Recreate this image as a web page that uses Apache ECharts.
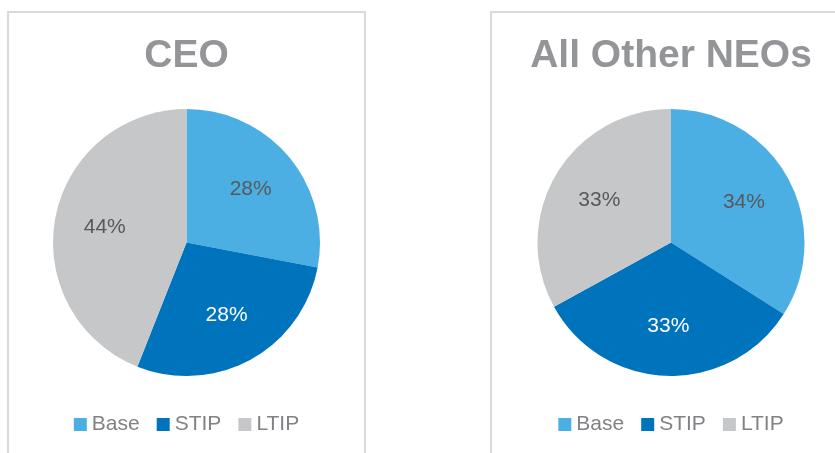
<!DOCTYPE html>
<html>
<head>
<meta charset="utf-8">
<script src="https://cdn.jsdelivr.net/npm/echarts@6/dist/echarts.min.js"></script>
<style>
  html, body { margin: 0; padding: 0; background: #fff; overflow: hidden; }
  body { width: 835px; height: 453px; position: relative; }
  .panel { position: absolute; top: 11px; height: 470px; box-sizing: border-box; border: 2px solid #dadada; }
  .chart { width: 100%; height: 100%; }
</style>
</head>
<body>
<div class="panel" style="left:7px;width:359px"><div id="ceo" class="chart"></div></div>
<div class="panel" style="left:490px;width:362px"><div id="neo" class="chart"></div></div>
<script>
// pay mix, percent of total
const categories = ['Base', 'STIP', 'LTIP'];
const ceoValues = [28, 28, 44];
const neoValues = [34, 33, 33];

const sliceColors = ['#4bafe4', '#0073bd', '#c6c7c9'];
const labelColors = ['#58595b', '#ffffff', '#58595b'];
const font = '"Liberation Sans", Arial, sans-serif';

function buildOption(title, values) {
    const slices = categories.map((name, i) => ({
        name: name,
        value: values[i],
        itemStyle: { color: sliceColors[i] }
    }));
    const labels = categories.map((name, i) => ({
        name: name,
        value: values[i],
        label: { color: labelColors[i] }
    }));
    return {
        animation: false,
        title: {
            text: title,
            left: 'center',
            top: 24,
            padding: 0,
            textStyle: { fontFamily: font, fontSize: 39, fontWeight: 'bold', color: '#939598' }
        },
        legend: {
            data: categories,
            left: 'center',
            top: 401,
            padding: 0,
            icon: 'rect',
            itemWidth: 13,
            itemHeight: 13,
            itemGap: 17,
            selectedMode: false,
            textStyle: { fontFamily: font, fontSize: 21, color: '#808285' }
        },
        series: [
            {
                type: 'pie',
                radius: 133.5,
                center: ['50%', 229.5],
                startAngle: 90,
                clockwise: true,
                silent: true,
                label: { show: false },
                labelLine: { show: false },
                emphasis: { disabled: true },
                data: slices
            },
            {
                // transparent ring only used to place the percent labels
                type: 'pie',
                radius: [27, 133.5],
                center: ['50%', 229.5],
                startAngle: 90,
                clockwise: true,
                silent: true,
                itemStyle: { color: 'rgba(0,0,0,0)' },
                label: {
                    show: true,
                    position: 'inside',
                    formatter: '{c}%',
                    fontFamily: font,
                    fontSize: 21
                },
                labelLine: { show: false },
                emphasis: { disabled: true },
                data: labels
            }
        ]
    };
}

const ceoChart = echarts.init(document.getElementById('ceo'), null, { renderer: 'canvas' });
ceoChart.setOption(buildOption('CEO', ceoValues));

const neoChart = echarts.init(document.getElementById('neo'), null, { renderer: 'canvas' });
neoChart.setOption(buildOption('All Other NEOs', neoValues));
</script>
</body>
</html>
